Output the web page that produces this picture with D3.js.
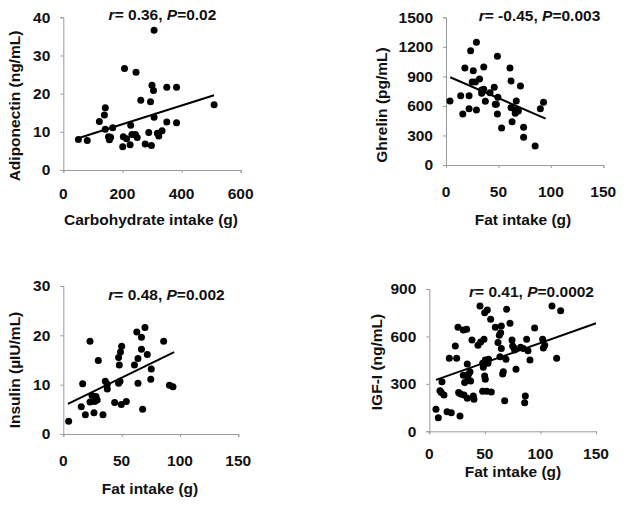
<!DOCTYPE html>
<html><head><meta charset="utf-8">
<script src="https://cdn.jsdelivr.net/npm/d3@7"></script>
<style>
body{margin:0;background:#fff;}
svg text{font-family:"Liberation Sans",Arial,sans-serif;font-weight:bold;fill:#111;}
</style></head>
<body><svg id="c" width="624" height="505"></svg>
<script>
// Panel A: carbohydrate intake vs adiponectin
const carbX = [51,81,122,139,142,142,153,156,160,167,201,203,207,214,226,228,232,244,246,250,262,277,289,295,298,300,305,307,307,318,323,334,350,350,383,383,510];
const adipoY = [8.0,7.7,12.7,14.4,16.3,10.7,8.7,7.9,8.6,11.1,6.1,8.7,26.6,8.2,6.6,11.7,9.3,9.3,25.6,8.5,18.3,6.8,9.8,17.9,6.4,22.2,20.8,13.8,36.6,9.6,8.9,10.3,21.7,12.6,21.7,12.4,17.1];
const fitA = {x:[50,510], y:[8.3,19.6]};
// Panel B: fat intake vs ghrelin
const fatB = [3.8,14,16,18,22,22,23.5,25,26,28,29,29,32,34,34,36,36,37.5,42,46,47,48,49,49.5,49,53,61,62,62,63,66,66,67,68,69,71,74,74,85,90,93];
const ghrelinY = [650,704,518,985,704,572,1161,843,958,843,559,1246,874,762,728,769,996,647,735,789,616,616,1104,687,518,376,985,853,582,440,559,525,650,559,549,803,383,281,193,572,637];
const fitB = {x:[4,95], y:[891,471]};
// Panel C: fat intake vs insulin
const fatC = [4.6,15.4,16.6,18.9,22.9,22.9,24.6,26.3,26.9,28,29,30,34,36,37.7,37.7,44,47.4,47.4,48,49,48.6,49.7,50,54,61,63,64,64,67,67,68,70,72,75.4,75,86,91,94];
const insulinY = [2.6,5.5,10.2,3.9,18.8,6.5,7.8,4.3,6.6,7.6,6.9,14.9,3.9,10.7,10.1,9.1,6.4,15.5,10.3,14.0,16.6,10.7,6.0,17.8,6.6,14.0,20.7,10.3,15.3,19.6,17.2,5.0,21.6,16.1,13.2,11.1,18.8,9.9,9.6];
const fitC = {x:[4,95], y:[6.1,16.6]};
// Panel D: fat intake vs IGF-I
const fatD = [6,8.1,9.6,10.8,11.4,13.2,16,18,19.8,23.4,24.6,25.8,26.4,27.6,28.2,30.6,30.6,31.2,31.8,33.6,34.2,34.2,34.8,35.4,36.6,37.2,38.4,39.6,40.2,43.8,45.6,46.2,48,48,48.6,49.2,49.8,49.8,50.4,50.4,51.6,52.2,52.8,53.4,55.2,55.8,59.4,61.8,63,63.6,64.2,64.8,64.8,66,66.6,67.8,69,69.6,72.6,74.4,75,76.2,76.8,78,82.2,84.6,85.8,86.4,87.6,88.8,90.6,94.8,102,102.6,103.8,110.4,114.6,118.2];
const igfY = [139,86,257,245,314,230,124,462,118,540,462,658,245,97,236,354,641,230,308,645,209,426,333,363,377,318,578,223,202,544,793,565,430,253,405,582,750,350,451,329,253,767,430,455,708,249,658,561,607,472,624,666,523,363,377,194,455,772,683,578,540,527,514,392,531,523,181,223,582,510,451,653,582,527,544,793,462,763];
const fitD = {x:[6,150], y:[325,683]};

const xTicksA = [0,200,400,600], yTicksA = [0,10,20,30,40];
const xTicksFat = [0,50,100,150];
const yTicksB = [0,300,600,900,1200,1500];
const yTicksC = [0,10,20,30];
const yTicksD = [0,300,600,900];

const svg = d3.select("#c");
const FS = 15.5;

const panels = [
 {xs:carbX, ys:adipoY, fit:fitA, xd:[0,600], yd:[0,40], xr:[63.3,240.7], yr:[170,17.3], xt:xTicksA, yt:yTicksA,
  title:["r","= 0.36, ","P","=0.02"], tx:162.5, ty:15,
  xlab:"Carbohydrate intake (g)", xlx:151, xly:220, xtky:194,
  ylab:"Adiponectin (ng/mL)", ylx:15, yly:106},
 {xs:fatB, ys:ghrelinY, fit:fitB, xd:[0,150], yd:[0,1500], xr:[446,603.3], yr:[165,17.3], xt:xTicksFat, yt:yTicksB,
  title:["r","= -0.45, ","P","=0.003"], tx:539.5, ty:15.5,
  xlab:"Fat intake (g)", xlx:523, xly:220, xtky:192,
  ylab:"Ghrelin (pg/mL)", ylx:382, yly:105},
 {xs:fatC, ys:insulinY, fit:fitC, xd:[0,150], yd:[0,30], xr:[63.3,238.3], yr:[434,286], xt:xTicksFat, yt:yTicksC,
  title:["r","= 0.48, ","P","=0.002"], tx:166.5, ty:295,
  xlab:"Fat intake (g)", xlx:150, xly:489, xtky:461,
  ylab:"Insulin (µIU/mL)", ylx:15, yly:370},
 {xs:fatD, ys:igfY, fit:fitD, xd:[0,150], yd:[0,900], xr:[429.3,596], yr:[431.3,289], xt:xTicksFat, yt:yTicksD,
  title:["r","= 0.41, ","P","=0.0002"], tx:531.5, ty:292,
  xlab:"Fat intake (g)", xlx:513, xly:472, xtky:454,
  ylab:"IGF-I (ng/mL)", ylx:377, yly:362}
];

panels.forEach(p => {
  const x = d3.scaleLinear().domain(p.xd).range(p.xr);
  const y = d3.scaleLinear().domain(p.yd).range(p.yr);
  const g = svg.append("g");
  // axes
  const xa = g.append("g").attr("transform",`translate(0,${p.yr[0]})`)
    .call(d3.axisBottom(x).tickValues(p.xt).tickSize(3).tickFormat(""));
  const ya = g.append("g").attr("transform",`translate(${p.xr[0]},0)`)
    .call(d3.axisLeft(y).tickValues(p.yt).tickSize(3).tickFormat(""));
  [xa,ya].forEach(a=>{a.selectAll("path,line").attr("stroke","#9a9a9a").attr("stroke-width",1);});
  // tick labels
  g.selectAll(".xtl").data(p.xt).enter().append("text")
    .attr("x",d=>x(d)).attr("y",p.xtky).attr("dy","0.35em").attr("text-anchor","middle")
    .attr("font-size",FS).text(d=>d);
  g.selectAll(".ytl").data(p.yt).enter().append("text")
    .attr("x",p.xr[0]-13).attr("y",d=>y(d)).attr("dy","0.35em").attr("text-anchor","end")
    .attr("font-size",FS).text(d=>d);
  // axis titles
  g.append("text").attr("x",p.xlx).attr("y",p.xly).attr("dy","0.35em").attr("text-anchor","middle")
    .attr("font-size",FS).text(p.xlab);
  g.append("text").attr("transform",`translate(${p.ylx},${p.yly}) rotate(-90)`).attr("dy","0.35em")
    .attr("text-anchor","middle").attr("font-size",FS).text(p.ylab);
  // title
  const t = g.append("text").attr("x",p.tx).attr("y",p.ty).attr("dy","0.35em").attr("text-anchor","middle").attr("font-size",FS);
  p.title.forEach((s,i)=>{ t.append("tspan").attr("font-style", i%2===0 ? "italic":"normal").text(s); });
  // points
  const pts = p.xs.map((v,i)=>[v,p.ys[i]]);
  g.selectAll("circle").data(pts).enter().append("circle")
    .attr("cx",d=>x(d[0])).attr("cy",d=>y(d[1])).attr("r",3.5).attr("fill","#000");
  // fit line
  g.append("line").attr("x1",x(p.fit.x[0])).attr("y1",y(p.fit.y[0]))
    .attr("x2",x(p.fit.x[1])).attr("y2",y(p.fit.y[1])).attr("stroke","#000").attr("stroke-width",2);
});
</script></body></html>
